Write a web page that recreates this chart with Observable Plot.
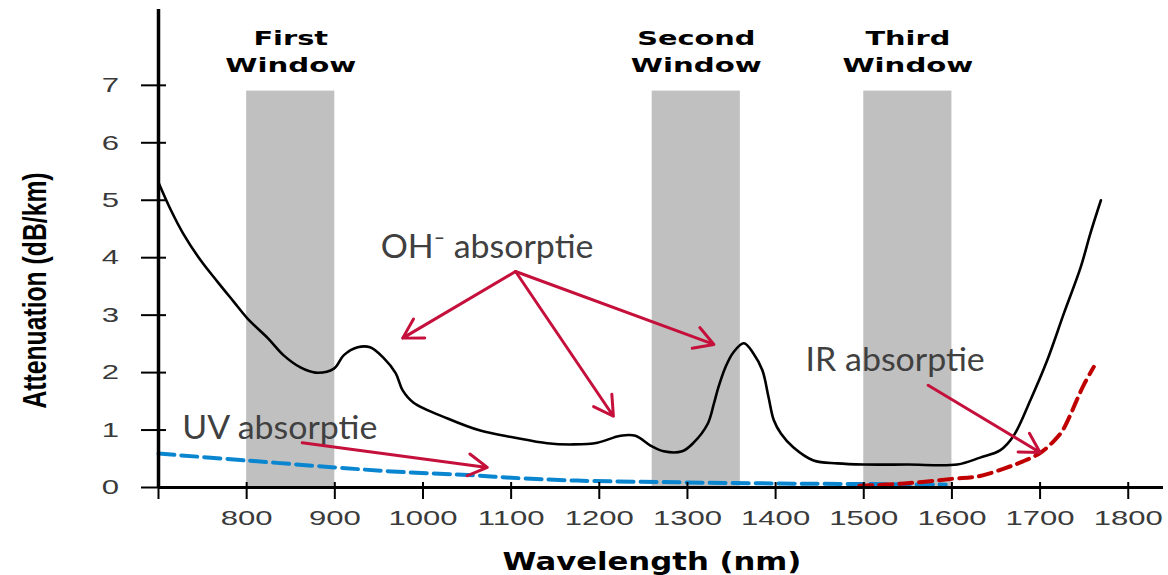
<!DOCTYPE html>
<html><head><meta charset="utf-8">
<script src="https://cdn.jsdelivr.net/npm/d3@7"></script>
<script src="https://cdn.jsdelivr.net/npm/@observablehq/plot@0.6"></script>
<style>html,body{margin:0;padding:0;background:#fff;overflow:hidden}</style>
</head><body><div id="chart"></div>
<script>
// ---- data ----
const curveWavelength = [700,714,728,748,767,785,801,824,842,861,878,899,910,926,940,955,969,977,989,1028,1065,1103,1141,1171,1198,1224,1241,1258,1273,1294,1307,1323,1330,1335,1343,1352,1364,1375,1385,1392,1398,1406,1420,1443,1470,1500,1550,1606,1632,1655,1670,1689,1708,1727,1746,1757,1769];
const curveAttenuation = [5.31,4.83,4.42,3.95,3.58,3.24,2.94,2.6,2.3,2.09,2.0,2.07,2.3,2.44,2.44,2.26,1.99,1.69,1.48,1.2,0.99,0.87,0.77,0.75,0.78,0.9,0.9,0.73,0.63,0.63,0.78,1.11,1.46,1.74,2.09,2.35,2.51,2.33,2.04,1.57,1.17,0.94,0.7,0.47,0.42,0.4,0.4,0.4,0.52,0.65,0.9,1.52,2.21,3.03,3.83,4.42,5.0];

const uvWavelength = [700,800,900,965,1060,1100,1175,1290,1400,1500,1593];
const uvAttenuation = [0.59,0.47,0.35,0.28,0.21,0.17,0.12,0.09,0.07,0.06,0.05];

const irWavelength = [1495,1546,1600,1632,1659,1680,1700,1715,1725,1734,1741,1750,1761];
const irAttenuation = [0.03,0.07,0.15,0.2,0.33,0.45,0.6,0.8,0.98,1.25,1.5,1.8,2.1];

const windowLine1 = ["First","Second","Third"];
const windowLine2 = ["Window","Window","Window"];
const windowStart = [800,1260,1500];
const windowEnd = [900,1360,1600];
const windowTop = 6.9;

const xTicks = [700,800,900,1000,1100,1200,1300,1400,1500,1600,1700,1800];
const xTickLabels = [800,900,1000,1100,1200,1300,1400,1500,1600,1700,1800];
const yTicks = [0,1,2,3,4,5,6,7];

const xTitle = "Wavelength (nm)";
const yTitle = "Attenuation (dB/km)";

const noteText = ["OH\u207B absorptie","UV absorptie","IR absorptie"];
const noteX = [952,727,1434];
const noteY = [3.99,0.85,2.02];

const arrowFromX = [1105,1105,1105,863,1573];
const arrowFromY = [3.76,3.76,3.76,0.78,1.78];
const arrowToX = [977,1216,1330,1073,1700];
const arrowToY = [2.6,1.24,2.49,0.35,0.61];

// ---- tables ----
const curve = curveWavelength.map((w,i)=>({w, a: curveAttenuation[i]}));
const uv = uvWavelength.map((w,i)=>({w, a: uvAttenuation[i]}));
const ir = irWavelength.map((w,i)=>({w, a: irAttenuation[i]}));
const windows = windowStart.map((s,i)=>({s, e: windowEnd[i], l1: windowLine1[i], l2: windowLine2[i]}));
const notes = noteText.map((t,i)=>({t, x: noteX[i], y: noteY[i]}));
const arrows = arrowFromX.map((x1,i)=>({x1, y1: arrowFromY[i], x2: arrowToX[i], y2: arrowToY[i]}));

const boldWide = "DejaVu Sans";
const plain = "Liberation Sans";

const chart = Plot.plot({
  width: 1168, height: 575,
  marginLeft: 158, marginRight: 5, marginTop: 9, marginBottom: 88,
  x: {domain: [700, 1840], axis: null},
  y: {domain: [0, 8.32], axis: null},
  style: {background: "#fff", overflow: "visible"},
  marks: [
    Plot.rect(windows, {x1: "s", x2: "e", y1: 0, y2: windowTop, fill: "#c0c0c0"}),
    Plot.line(curve, {x: "w", y: "a", stroke: "#000", strokeWidth: 2.6, curve: "catmull-rom"}),
    Plot.line(uv, {x: "w", y: "a", stroke: "#0a86d0", strokeWidth: 4, strokeDasharray: "16,7", curve: "catmull-rom"}),
    Plot.line(ir, {x: "w", y: "a", stroke: "#c00000", strokeWidth: 4, strokeDasharray: "13,7", curve: "catmull-rom"}),
    Plot.ruleY([0], {stroke: "#000", strokeWidth: 3}),
    Plot.ruleX([700], {stroke: "#000", strokeWidth: 3.5}),
    Plot.ruleX(xTicks, {x: d => d, insetTop: 473, insetBottom: -12, stroke: "#000", strokeWidth: 2}),
    Plot.ruleY(yTicks, {y: d => d, insetLeft: -17, insetRight: 997, stroke: "#000", strokeWidth: 2}),
    // text groups (order matters for post-processing)
    Plot.text(windows, {x: d => (d.s + d.e) / 2, text: "l1", frameAnchor: "top", dy: 29, lineAnchor: "middle", fontFamily: boldWide, fontWeight: "bold", fontSize: 20, fill: "#000"}),
    Plot.text(windows, {x: d => (d.s + d.e) / 2, text: "l2", frameAnchor: "top", dy: 56, lineAnchor: "middle", fontFamily: boldWide, fontWeight: "bold", fontSize: 20, fill: "#000"}),
    Plot.text(xTickLabels, {x: d => d, text: d => String(d), frameAnchor: "bottom", dy: 31, lineAnchor: "middle", fontFamily: plain, fontSize: 21, fill: "#3a3a3a"}),
    Plot.text(yTicks, {y: d => d, text: d => String(d), frameAnchor: "left", dx: -48, textAnchor: "middle", lineAnchor: "middle", fontFamily: plain, fontSize: 21, fill: "#3a3a3a"}),
    Plot.text([xTitle], {text: d => d, frameAnchor: "bottom", dx: -9, dy: 75, lineAnchor: "middle", fontFamily: boldWide, fontWeight: "bold", fontSize: 24, fill: "#000"}),
    Plot.text([yTitle], {text: d => d, frameAnchor: "left", dx: -123, dy: 42, rotate: -90, textAnchor: "middle", lineAnchor: "middle", fontFamily: plain, fontWeight: "bold", fontSize: 24, fill: "#000"}),
    Plot.text(notes, {x: "x", y: "y", text: "t", textAnchor: "start", lineAnchor: "bottom", fontFamily: "Lato", fontSize: 32, fill: "#404040"}),
    Plot.arrow(arrows, {x1: "x1", y1: "y1", x2: "x2", y2: "y2", stroke: "#c5103c", strokeWidth: 3, headLength: 11, headAngle: 60})
  ]
});
document.getElementById("chart").appendChild(chart);

// horizontal stretch of the original raster text
const groups = chart.querySelectorAll('g[aria-label="text"]');
function stretch(g, k) {
  g.querySelectorAll("text").forEach(t => {
    const w = t.getComputedTextLength();
    t.setAttribute("textLength", (w * k).toFixed(1));
    t.setAttribute("lengthAdjust", "spacingAndGlyphs");
  });
}
stretch(groups[0], 1.44);
stretch(groups[1], 1.46);
stretch(groups[2], 1.48);
stretch(groups[3], 1.48);
stretch(groups[4], 1.28);
stretch(groups[5], 1.03);
stretch(groups[6], 1.06);
groups[5].querySelectorAll("text").forEach(t => {
  const tr = t.getAttribute("transform") || "";
  t.setAttribute("transform", tr + " scale(1,1.4)");
});
</script>
</body></html>
